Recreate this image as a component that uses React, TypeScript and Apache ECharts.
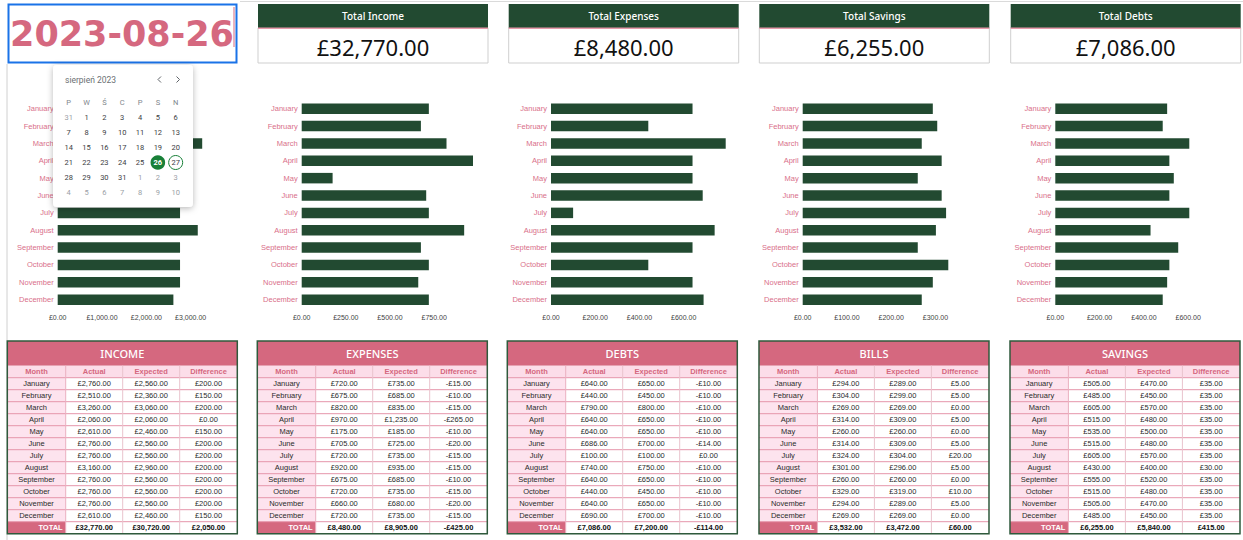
import React, { useEffect, useRef } from "react";
import * as echarts from "echarts";

const months = ["January", "February", "March", "April", "May", "June", "July", "August", "September", "October", "November", "December"];

const incomeActual = [2760, 2510, 3260, 2060, 2610, 2760, 2760, 3160, 2760, 2760, 2760, 2610];
const incomeExpected = [2560, 2360, 3060, 2060, 2460, 2560, 2560, 2960, 2560, 2560, 2560, 2460];
const incomeDiff = [200, 150, 200, 0, 150, 200, 200, 200, 200, 200, 200, 150];
const incomeTotals = [32770, 30720, 2050];

const expensesActual = [720, 675, 820, 970, 175, 705, 720, 920, 675, 720, 660, 720];
const expensesExpected = [735, 685, 835, 1235, 185, 725, 735, 935, 685, 735, 680, 735];
const expensesDiff = [-15, -10, -15, -265, -10, -20, -15, -15, -10, -15, -20, -15];
const expensesTotals = [8480, 8905, -425];

const debtsActual = [640, 440, 790, 640, 640, 686, 100, 740, 640, 440, 640, 690];
const debtsExpected = [650, 450, 800, 650, 650, 700, 100, 750, 650, 450, 650, 700];
const debtsDiff = [-10, -10, -10, -10, -10, -14, 0, -10, -10, -10, -10, -10];
const debtsTotals = [7086, 7200, -114];

const billsActual = [294, 304, 269, 314, 260, 314, 324, 301, 260, 329, 294, 269];
const billsExpected = [289, 299, 269, 309, 260, 309, 304, 296, 260, 319, 289, 269];
const billsDiff = [5, 5, 0, 5, 0, 5, 20, 5, 0, 10, 5, 0];
const billsTotals = [3532, 3472, 60];

const savingsActual = [505, 485, 605, 515, 535, 515, 605, 430, 555, 515, 505, 485];
const savingsExpected = [470, 450, 570, 480, 500, 480, 570, 400, 520, 480, 470, 450];
const savingsDiff = [35, 35, 35, 35, 35, 35, 35, 30, 35, 35, 35, 35];
const savingsTotals = [6255, 5840, 415];

const kpiTitles = ["Total Income", "Total Expenses", "Total Savings", "Total Debts"];
const kpiValues = [32770, 8480, 6255, 7086];

const dateText = "2023-08-26";
const calTitle = "sierpień 2023";
const weekdays = ["P", "W", "Ś", "C", "P", "S", "N"];
const calWeeks = [
  [31, 1, 2, 3, 4, 5, 6],
  [7, 8, 9, 10, 11, 12, 13],
  [14, 15, 16, 17, 18, 19, 20],
  [21, 22, 23, 24, 25, 26, 27],
  [28, 29, 30, 31, 1, 2, 3],
  [4, 5, 6, 7, 8, 9, 10],
];

const tableHeaders = ["Month", "Actual", "Expected", "Difference"];

const PINK = "#d5687f";
const GREEN = "#224a31";
const ARIAL = "'Liberation Sans', Arial, sans-serif";
const SANS = "'Noto Sans', 'Open Sans', sans-serif";

const fmt = (v: number) =>
  (v < 0 ? "-" : "") +
  "£" +
  Math.abs(v).toLocaleString("en-US", { minimumFractionDigits: 2, maximumFractionDigits: 2 });

const charts = [
  { data: incomeActual, interval: 1000, left: 57.7, right: 202.2 },
  { data: expensesActual, interval: 250, left: 301.7, right: 473 },
  { data: debtsActual, interval: 200, left: 551, right: 725.7 },
  { data: billsActual, interval: 100, left: 802.7, right: 948.3 },
  { data: savingsActual, interval: 200, left: 1055.3, right: 1189.3 },
];

const tables = [
  { title: "INCOME", a: incomeActual, e: incomeExpected, d: incomeDiff, t: incomeTotals },
  { title: "EXPENSES", a: expensesActual, e: expensesExpected, d: expensesDiff, t: expensesTotals },
  { title: "DEBTS", a: debtsActual, e: debtsExpected, d: debtsDiff, t: debtsTotals },
  { title: "BILLS", a: billsActual, e: billsExpected, d: billsDiff, t: billsTotals },
  { title: "SAVINGS", a: savingsActual, e: savingsExpected, d: savingsDiff, t: savingsTotals },
];

function rect(x: number, y: number, w: number, h: number, style: any, z = 1): any {
  return { type: "rect", z, shape: { x, y, width: w, height: h }, style };
}
function line(x1: number, y1: number, x2: number, y2: number, stroke: string, lw = 1, z = 2): any {
  return { type: "line", z, shape: { x1, y1, x2, y2 }, style: { stroke, lineWidth: lw } };
}
function text(x: number, y: number, t: string, s: any, z = 3): any {
  return {
    type: "text",
    z,
    x,
    y,
    style: { text: t, align: "center", verticalAlign: "middle", fontFamily: ARIAL, fontSize: 7.5, fill: "#333", ...s },
  };
}

function buildGraphics() {
  const els: any[] = [];
  // spreadsheet lines
  els.push(line(240, 1.5, 1243, 1.5, "#dadada", 1, 0));
  els.push(line(7, 64, 7, 540, "#d0d0d0", 1, 0));

  // date cell
  els.push(rect(8.5, 4.5, 228, 58, { fill: "#fff", stroke: "#1a73e8", lineWidth: 2 }, 1));
  els.push(
    text(122, 34, dateText, { fontFamily: "'DejaVu Sans', sans-serif", fontWeight: "bold", fontSize: 35, fill: "#d5687f" })
  );
  els.push(line(234, 7, 234, 47, "#d5687f", 1, 3));

  // KPI boxes
  const KX = [258, 508.7, 759.3, 1010.7];
  KX.forEach((x, i) => {
    els.push(rect(x, 28, 230, 35, { fill: "#fff", stroke: "#cfcfcf", lineWidth: 1 }));
    els.push(rect(x, 4, 230, 24, { fill: GREEN }));
    els.push(rect(x, 27.5, 230, 1.6, { fill: "#e79aab" }, 2));
    els.push(text(x + 115, 16, kpiTitles[i], { fontFamily: SANS, fontSize: 10, fill: "#fff", fontWeight: 500 }));
    els.push(text(x + 115, 46.5, fmt(kpiValues[i]), { fontFamily: SANS, fontSize: 22, fill: "#111" }));
  });

  // tables
  const TX = [7.3, 257.3, 507.3, 759, 1010];
  const colOff = [0, 58.4, 115.4, 172.4, 230];
  const tTop = 341;
  const titleH = 24.7;
  const hdrTop = tTop + titleH;
  const rowH = 12;
  const dataTop = hdrTop + rowH;
  const totalTop = dataTop + 12 * rowH;
  const bottom = totalTop + rowH;
  tables.forEach((tb, ti) => {
    const x0 = TX[ti];
    const W = colOff[4];
    els.push(rect(x0, tTop, W, titleH, { fill: PINK }));
    els.push(rect(x0, hdrTop, W, rowH, { fill: "#fcdde9" }));
    els.push(rect(x0, dataTop, W, 12 * rowH + rowH, { fill: "#fff" }));
    els.push(rect(x0, dataTop, colOff[1], 12 * rowH, { fill: "#fde3ee" }));
    els.push(rect(x0, totalTop, colOff[1], rowH, { fill: PINK }));
    for (let k = 0; k <= 13; k++) {
      const y = dataTop + k * rowH;
      els.push(line(x0, y, x0 + W, y, k === 13 ? "#d9d9d9" : "#e596aa", 1));
    }
    for (let c = 1; c <= 3; c++) {
      els.push(line(x0 + colOff[c], hdrTop, x0 + colOff[c], bottom, c === 1 ? "#eab0c0" : "#e9c3cd", 1));
    }
    els.push(
      text(x0 + W / 2, tTop + titleH / 2 + 0.5, tb.title, { fontFamily: SANS, fontSize: 11, fill: "#fff", fontWeight: 500 })
    );
    tableHeaders.forEach((h, c) => {
      els.push(
        text(x0 + (colOff[c] + colOff[c + 1]) / 2, hdrTop + rowH / 2, h, { fill: PINK, fontWeight: "bold", fontSize: 7.5 })
      );
    });
    months.forEach((m, r) => {
      const y = dataTop + r * rowH + rowH / 2;
      const vals = [m, fmt(tb.a[r]), fmt(tb.e[r]), fmt(tb.d[r])];
      vals.forEach((v, c) => {
        els.push(text(x0 + (colOff[c] + colOff[c + 1]) / 2, y, v, { fill: "#2b2b2b" }));
      });
    });
    const ty = totalTop + rowH / 2;
    els.push(text(x0 + colOff[1] - 3, ty, "TOTAL", { fill: "#fff", fontWeight: "bold", align: "right" }));
    tb.t.forEach((v, c) => {
      els.push(
        text(x0 + (colOff[c + 1] + colOff[c + 2]) / 2, ty, fmt(v), { fill: "#111", fontWeight: "bold" })
      );
    });
    els.push(rect(x0, tTop, W, bottom - tTop, { fill: "none", stroke: "#2f5a3c", lineWidth: 1.5 }, 4));
  });

  // date picker popup
  const pop: any[] = [];
  pop.push(
    rect(53, 65, 140, 142, {
      fill: "#fff",
      shadowBlur: 6,
      shadowColor: "rgba(0,0,0,0.28)",
      shadowOffsetY: 1.5,
    }, 100)
  );
  pop[0].shape.r = 4;
  pop.push(
    text(65, 80, calTitle, { fontFamily: "Roboto, sans-serif", fontSize: 8.5, fill: "#6b6f73", align: "left" }, 101)
  );
  pop.push({
    type: "polyline",
    z: 101,
    shape: { points: [[161, 76.5], [158, 79.5], [161, 82.5]] },
    style: { stroke: "#5f6368", lineWidth: 1, fill: "none" },
  });
  pop.push({
    type: "polyline",
    z: 101,
    shape: { points: [[176.5, 76.5], [179.5, 79.5], [176.5, 82.5]] },
    style: { stroke: "#5f6368", lineWidth: 1, fill: "none" },
  });
  const cx = (c: number) => 68.7 + 17.83 * c;
  const ry = (r: number) => 117.3 + 15.07 * r;
  weekdays.forEach((w, c) => {
    pop.push(text(cx(c), 102.3, w, { fontFamily: "Roboto, sans-serif", fontSize: 7.5, fill: "#80868b" }, 101));
  });
  calWeeks.forEach((wk, r) => {
    wk.forEach((d, c) => {
      const outside = (r === 0 && d > 20) || (r >= 4 && d < 15);
      const selected = r === 3 && d === 26;
      const today = r === 3 && d === 27;
      if (selected) {
        pop.push({ type: "circle", z: 101, shape: { cx: cx(c), cy: ry(r), r: 7.3 }, style: { fill: "#188038" } });
      }
      if (today) {
        pop.push({
          type: "circle",
          z: 101,
          shape: { cx: cx(c), cy: ry(r), r: 7 },
          style: { fill: "none", stroke: "#188038", lineWidth: 1 },
        });
      }
      pop.push(
        text(cx(c), ry(r) + 0.3, String(d), {
          fontFamily: "Roboto, sans-serif",
          fontSize: 7.5,
          fill: selected ? "#fff" : outside ? "#9aa0a6" : "#3c4043",
          fontWeight: selected ? "bold" : "normal",
        }, 102)
      );
    });
  });
  els.push(...pop);
  return els;
}

export default function App() {
  const ref = useRef<HTMLDivElement>(null);
  useEffect(() => {
    if (!ref.current) return;
    const chart = echarts.init(ref.current, undefined, { renderer: "svg" });
    const top = 100;
    const height = 208.4;
    chart.setOption({
      animation: false,
      backgroundColor: "#fff",
      textStyle: { fontFamily: ARIAL },
      grid: charts.map((c) => ({ left: c.left, top, width: c.right - c.left, height, containLabel: false })),
      xAxis: charts.map((c, i) => ({
        type: "value",
        gridIndex: i,
        min: 0,
        max: "dataMax",
        interval: c.interval,
        splitLine: { show: false },
        axisLine: { show: false },
        axisTick: { show: false },
        axisLabel: {
          fontSize: 7,
          color: "#444",
          margin: 6,
          showMaxLabel: false,
          formatter: (v: number) => fmt(v),
        },
      })),
      yAxis: charts.map((c, i) => ({
        type: "category",
        gridIndex: i,
        data: months,
        inverse: true,
        axisLine: { show: false },
        axisTick: { show: false },
        axisLabel: { fontSize: 7.5, color: "#d96f8a", margin: 4 },
      })),
      series: charts.map((c, i) => ({
        type: "bar",
        xAxisIndex: i,
        yAxisIndex: i,
        data: c.data,
        barWidth: 10.5,
        itemStyle: { color: GREEN },
      })),
      graphic: { elements: buildGraphics() },
    });
    return () => chart.dispose();
  }, []);
  return (
    <div
      ref={ref}
      style={{ position: "fixed", left: 0, top: 0, width: 1243, height: 540, background: "#fff" }}
    />
  );
}
